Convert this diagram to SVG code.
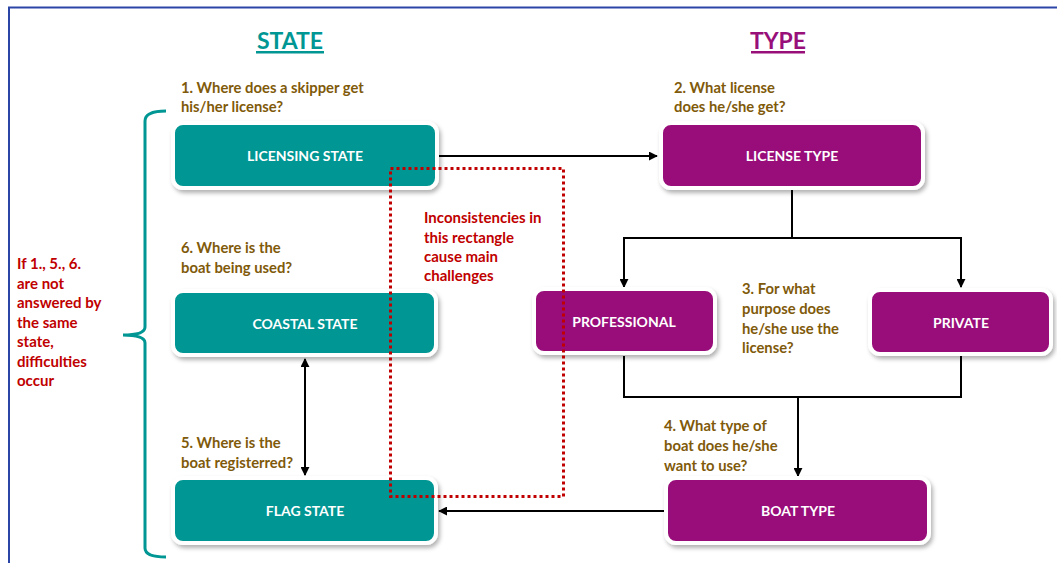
<svg xmlns="http://www.w3.org/2000/svg" width="1057" height="563" viewBox="0 0 1057 563">
<defs>
<filter id="sh" x="-10%" y="-20%" width="125%" height="150%">
<feDropShadow dx="2" dy="3" stdDeviation="2" flood-color="#000" flood-opacity="0.3"/>
</filter>
<marker id="ah" viewBox="0 0 10 10" refX="9" refY="5" markerWidth="9" markerHeight="9" markerUnits="userSpaceOnUse" orient="auto-start-reverse">
<path d="M0,0 L10,5 L0,10 z" fill="#000"/>
</marker>
<style>
text{font-family:Lato,"Open Sans","Liberation Sans",sans-serif;font-weight:bold}
.teal{fill:#009693;stroke:#fff;stroke-width:4;filter:url(#sh)}
.purp{fill:#980F7A;stroke:#fff;stroke-width:4;filter:url(#sh)}
.lbl{fill:#fff;font-size:14px;text-anchor:middle}
.q{fill:#7F5A0A;font-size:14.8px}
.red{fill:#C00000;font-size:15px}
.c{fill:none;stroke:#000;stroke-width:2}
</style>
</defs>
<rect width="1057" height="563" fill="#fff"/>
<path d="M9,563 V7.5 H1057" fill="none" stroke="#2A45A5" stroke-width="2"/>

<g id="titles">
<text x="290" y="49" text-anchor="middle" font-size="23" fill="#009693">STATE</text>
<rect x="256" y="51" width="68" height="2.5" fill="#009693"/>
<text x="778" y="49" text-anchor="middle" font-size="23" fill="#980F7A">TYPE</text>
<rect x="751" y="51" width="54" height="2.5" fill="#980F7A"/>
</g>

<g id="brace">
<path d="M166,111 Q145,111 145,121 V327 Q145,335 123,335 Q145,335 145,343 V548 Q145,557 166,557" fill="none" stroke="#009693" stroke-width="3"/>
<text class="red"><tspan x="17" y="269">If 1., 5., 6.</tspan><tspan x="17" y="288.5">are not</tspan><tspan x="17" y="308">answered by</tspan><tspan x="17" y="327.5">the same</tspan><tspan x="17" y="347">state,</tspan><tspan x="17" y="366.5">difficulties</tspan><tspan x="17" y="386">occur</tspan></text>
</g>

<g id="connectors">
<line class="c" x1="438" y1="156" x2="657" y2="156" marker-end="url(#ah)"/>
<path class="c" d="M792,190 V238 H624 V287" marker-end="url(#ah)"/>
<path class="c" d="M792,238 H961 V287" marker-end="url(#ah)"/>
<path class="c" d="M624,356 V397 H961 V356"/>
<path class="c" d="M798,397 V476" marker-end="url(#ah)"/>
<line class="c" x1="666" y1="511" x2="439" y2="511" marker-end="url(#ah)"/>
<line class="c" x1="305" y1="359" x2="305" y2="475" marker-start="url(#ah)" marker-end="url(#ah)"/>
</g>

<g id="licensing-state">
<rect class="teal" x="173" y="123" width="264" height="65" rx="10"/>
<text class="lbl" x="305" y="161">LICENSING STATE</text>
<text class="q"><tspan x="181" y="93">1. Where does a skipper get</tspan><tspan x="181" y="112">his/her license?</tspan></text>
</g>

<g id="license-type">
<rect class="purp" x="661" y="123" width="262" height="65" rx="10"/>
<text class="lbl" x="792" y="161">LICENSE TYPE</text>
<text class="q"><tspan x="674" y="93">2. What license</tspan><tspan x="674" y="112">does he/she get?</tspan></text>
</g>

<g id="coastal-state">
<rect class="teal" x="173" y="291" width="263" height="64" rx="10"/>
<text class="lbl" x="305" y="328.5">COASTAL STATE</text>
<text class="q"><tspan x="181" y="253">6. Where is the</tspan><tspan x="181" y="273">boat being used?</tspan></text>
</g>

<g id="professional">
<rect class="purp" x="534" y="289" width="181" height="64" rx="10"/>
<text class="lbl" x="624" y="326.5">PROFESSIONAL</text>
</g>

<g id="question-3">
<text class="q"><tspan x="742" y="294">3. For what</tspan><tspan x="742" y="314">purpose does</tspan><tspan x="742" y="334">he/she use the</tspan><tspan x="742" y="353">license?</tspan></text>
</g>

<g id="private">
<rect class="purp" x="870" y="290" width="181" height="64" rx="10"/>
<text class="lbl" x="961" y="327.5">PRIVATE</text>
</g>

<g id="flag-state">
<rect class="teal" x="173" y="478" width="263" height="65" rx="10"/>
<text class="lbl" x="305" y="515.5">FLAG STATE</text>
<text class="q"><tspan x="181" y="448">5. Where is the</tspan><tspan x="181" y="468">boat registerred?</tspan></text>
</g>

<g id="boat-type">
<rect class="purp" x="666" y="478" width="263" height="65" rx="10"/>
<text class="lbl" x="798" y="515.5">BOAT TYPE</text>
<text class="q"><tspan x="664" y="431">4. What type of</tspan><tspan x="664" y="451">boat does he/she</tspan><tspan x="664" y="471">want to use?</tspan></text>
</g>

<g id="inconsistency-rect">
<rect x="390.5" y="168.5" width="173" height="328" fill="none" stroke="#C00000" stroke-width="3" stroke-dasharray="3,3"/>
<text class="red"><tspan x="424" y="223">Inconsistencies in</tspan><tspan x="424" y="243">this rectangle</tspan><tspan x="424" y="262">cause main</tspan><tspan x="424" y="281">challenges</tspan></text>
</g>
</svg>
